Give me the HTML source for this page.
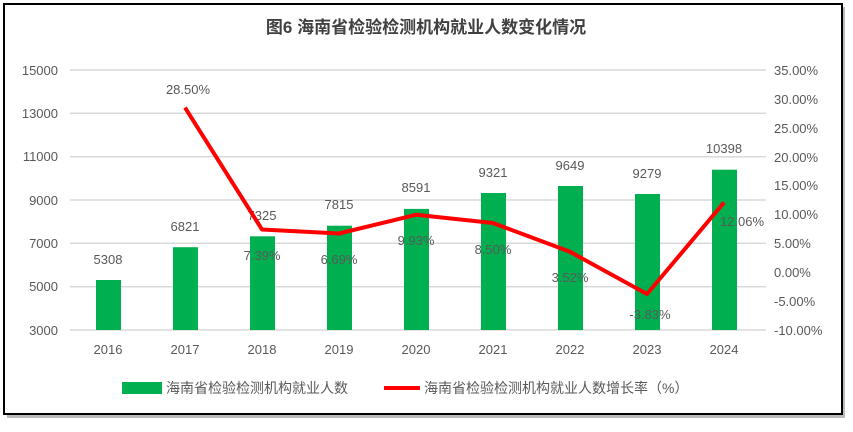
<!DOCTYPE html>
<html><head><meta charset="utf-8"><style>
body{margin:0;background:#fff;}
svg text{font-family:"Liberation Sans","Noto Sans CJK SC",sans-serif;fill:#595959;}
</style></head><body>
<svg width="853" height="427" xmlns="http://www.w3.org/2000/svg">
<rect x="7" y="7" width="838" height="411" fill="#bbb"/>
<rect x="4" y="4" width="838" height="410" fill="#fff" stroke="#000" stroke-width="2"/>
<text x="426" y="33" font-size="17" font-weight="bold" text-anchor="middle" style="fill:#404040">图6  海南省检验检测机构就业人数变化情况</text>
<g stroke="#d9d9d9" stroke-width="1.5">
<line x1="70" x2="766" y1="70" y2="70"/><line x1="70" x2="766" y1="113.3" y2="113.3"/>
<line x1="70" x2="766" y1="156.7" y2="156.7"/><line x1="70" x2="766" y1="200" y2="200"/>
<line x1="70" x2="766" y1="243.3" y2="243.3"/><line x1="70" x2="766" y1="286.7" y2="286.7"/>
<line x1="70" x2="766" y1="330" y2="330"/></g>
<g font-size="13" text-anchor="end">
<text x="58" y="75">15000</text><text x="58" y="118">13000</text><text x="58" y="161">11000</text>
<text x="58" y="205">9000</text><text x="58" y="248">7000</text><text x="58" y="291">5000</text><text x="58" y="335">3000</text></g>
<g font-size="13" text-anchor="start">
<text x="774" y="75">35.00%</text><text x="774" y="104">30.00%</text><text x="774" y="133">25.00%</text>
<text x="774" y="162">20.00%</text><text x="774" y="190">15.00%</text><text x="774" y="219">10.00%</text>
<text x="774" y="248">5.00%</text><text x="774" y="277">0.00%</text><text x="774" y="306">-5.00%</text><text x="774" y="335">-10.00%</text></g>
<g fill="#00b050">
<rect x="96" y="280" width="25" height="50"/><rect x="173" y="247.2" width="25" height="82.8"/>
<rect x="250" y="236.3" width="25" height="93.7"/><rect x="327" y="225.7" width="25" height="104.3"/>
<rect x="404" y="208.9" width="25" height="121.1"/><rect x="481" y="193" width="25" height="137"/>
<rect x="558" y="186" width="25" height="144"/><rect x="635" y="194" width="25" height="136"/>
<rect x="712" y="169.7" width="25" height="160.3"/></g>
<g font-size="13" text-anchor="middle">
<text x="108" y="354">2016</text><text x="185" y="354">2017</text><text x="262" y="354">2018</text>
<text x="339" y="354">2019</text><text x="416" y="354">2020</text><text x="493" y="354">2021</text>
<text x="570" y="354">2022</text><text x="647" y="354">2023</text><text x="724" y="354">2024</text></g>
<g font-size="13" text-anchor="middle">
<text x="108" y="264">5308</text><text x="185" y="231">6821</text><text x="262" y="220">7325</text>
<text x="339" y="209">7815</text><text x="416" y="192">8591</text><text x="493" y="177">9321</text>
<text x="570" y="170">9649</text><text x="647" y="178">9279</text><text x="724" y="153">10398</text></g>
<polyline fill="none" stroke="#ff0000" stroke-width="4" stroke-linejoin="round" points="185,107.6 262,229.5 339,233.5 416,214.8 493,223 570,251.8 647,294 724,202.5"/>
<g font-size="13" text-anchor="middle">
<text x="188" y="94">28.50%</text><text x="262" y="260">7.39%</text><text x="339" y="264">6.69%</text>
<text x="416" y="245">9.93%</text><text x="493" y="254">8.50%</text><text x="570" y="282">3.52%</text>
<text x="650" y="319">-3.83%</text><text x="742" y="226">12.06%</text></g>
<rect x="122" y="382" width="40" height="12" fill="#00b050"/>
<text x="166" y="393" font-size="14">海南省检验检测机构就业人数</text>
<line x1="384" x2="420" y1="388" y2="388" stroke="#ff0000" stroke-width="4"/>
<text x="424" y="393" font-size="14">海南省检验检测机构就业人数增长率（%）</text>
</svg>
</body></html>
